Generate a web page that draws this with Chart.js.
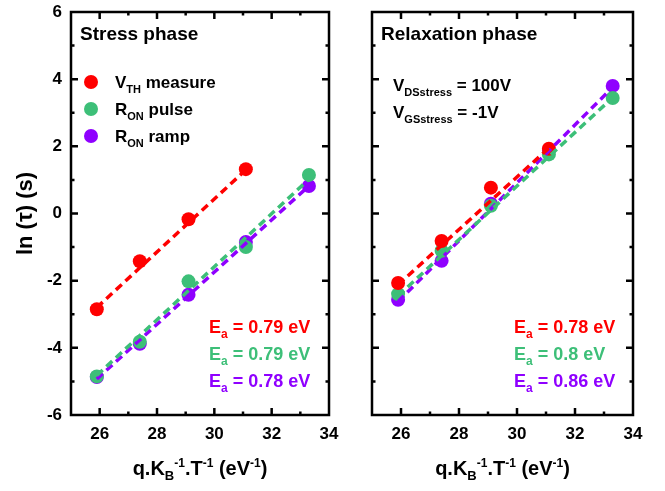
<!DOCTYPE html>
<html>
<head>
<meta charset="utf-8">
<script src="https://cdn.jsdelivr.net/npm/chart.js@4.4.1/dist/chart.umd.min.js"></script>
<style>
  html, body { margin: 0; padding: 0; background: #fff; }
  #wrap { position: relative; width: 665px; height: 491px; }
  #wrap canvas { position: absolute; left: 0; top: 0; }
</style>
</head>
<body>
<div id="wrap">
  <canvas id="stressChart" width="665" height="491"></canvas>
  <canvas id="relaxChart" width="665" height="491"></canvas>
</div>
<script>
// données
const xTicks = [26, 28, 30, 32, 34];
const yTicks = [-6, -4, -2, 0, 2, 4, 6];
const invKT = [25.9, 27.4, 29.1, 31.1, 33.3];

// phase de stress
const stressVth = [-2.85, -1.42, -0.17, 1.32];
const stressRonPulse = [-4.85, -3.82, -2.02, -1.0, 1.15];
const stressRonRamp = [-4.87, -3.88, -2.42, -0.85, 0.82];
// phase de relaxation
const relaxVth = [-2.07, -0.82, 0.77, 1.93];
const relaxRonPulse = [-2.4, -1.11, 0.23, 1.76, 3.44];
const relaxRonRamp = [-2.57, -1.41, 0.29, 1.89, 3.8];

// droites d'ajustement (extrémités)
const fitXShort = [25.9, 31.1];
const fitXLong = [25.9, 33.3];
const stressFitVth = [-2.8, 1.3];
const stressFitPulse = [-4.82, 1.02];
const stressFitRamp = [-4.93, 0.82];
const relaxFitVth = [-2.12, 1.95];
const relaxFitPulse = [-2.45, 3.45];
const relaxFitRamp = [-2.62, 3.76];

const RED = '#ff0000';
const GREEN = '#3dbf78';
const PURPLE = '#8f00ff';
const FONT = '"Liberation Sans", Arial, sans-serif';

function pts(xs, ys) {
    return ys.map((y, i) => ({ x: xs[i], y: y }));
}

// texte avec indices / exposants : parts = [texte, taille, décalage vertical]
function richText(ctx, parts, x, y, color, align) {
    let w = 0;
    parts.forEach(p => {
        ctx.font = 'bold ' + p[1] + 'px ' + FONT;
        w += ctx.measureText(p[0]).width;
    });
    let cx = align === 'center' ? x - w / 2 : x;
    ctx.fillStyle = color;
    ctx.textAlign = 'left';
    ctx.textBaseline = 'alphabetic';
    parts.forEach(p => {
        ctx.font = 'bold ' + p[1] + 'px ' + FONT;
        ctx.fillText(p[0], cx, y + (p[2] || 0));
        cx += ctx.measureText(p[0]).width;
    });
}

const framePlugin = {
    id: 'frame',
    afterDraw(chart, args, opts) {
        const ctx = chart.ctx;
        const a = chart.chartArea;
        const xs = chart.scales.x, ys = chart.scales.y;
        ctx.save();
        ctx.strokeStyle = '#000';
        ctx.lineWidth = 2.5;
        ctx.strokeRect(a.left, a.top, a.right - a.left, a.bottom - a.top);

        // graduations vers l'intérieur, sur les quatre côtés
        ctx.beginPath();
        for (let v = 26; v < 34; v++) {
            const px = xs.getPixelForValue(v);
            const len = v % 2 === 0 ? 7 : 3.5;
            ctx.moveTo(px, a.bottom); ctx.lineTo(px, a.bottom - len);
            ctx.moveTo(px, a.top); ctx.lineTo(px, a.top + len);
        }
        for (let v = -5; v < 6; v++) {
            const py = ys.getPixelForValue(v);
            const len = v % 2 === 0 ? 7 : 3.5;
            ctx.moveTo(a.left, py); ctx.lineTo(a.left + len, py);
            ctx.moveTo(a.right, py); ctx.lineTo(a.right - len, py);
        }
        ctx.stroke();

        // étiquettes des axes
        ctx.fillStyle = '#000';
        ctx.font = 'bold 17px ' + FONT;
        ctx.textAlign = 'center';
        ctx.textBaseline = 'middle';
        xTicks.forEach(v => ctx.fillText(String(v), xs.getPixelForValue(v), a.bottom + 19));
        if (opts.yLabels) {
            ctx.textAlign = 'right';
            yTicks.forEach(v => ctx.fillText(String(v), a.left - 9, ys.getPixelForValue(v)));
            ctx.save();
            ctx.translate(26, (a.top + a.bottom) / 2);
            ctx.rotate(-Math.PI / 2);
            ctx.textAlign = 'center';
            ctx.font = 'bold 22px ' + FONT;
            ctx.fillText('ln (\u03c4) (s)', 0, 0);
            ctx.restore();
        }

        // titre de l'axe x
        const cx = (a.left + a.right) / 2;
        richText(ctx, [['q.K', 20], ['B', 13, 5], ['-1', 12, -8], ['.T', 20], ['-1', 12, -8],
            [' (eV', 20], ['-1', 12, -8], [')', 20]], cx, 475, '#000', 'center');

        // titre du panneau
        richText(ctx, [[opts.title, 19]], a.left + 9, 40, '#000', 'left');

        // annotations et légende
        (opts.notes || []).forEach(n => richText(ctx, n.parts, n.x, n.y, n.color || '#000', 'left'));
        (opts.legend || []).forEach(l => {
            ctx.fillStyle = l.color;
            ctx.beginPath();
            ctx.arc(l.dotX, l.y - 6, 7, 0, Math.PI * 2);
            ctx.fill();
            richText(ctx, l.parts, l.textX, l.y, '#000', 'left');
        });
        ctx.restore();
    }
};

function makePanel(id, pad, series, fits, opts) {
    const datasets = [];
    series.forEach(s => datasets.push({
        data: pts(invKT, s.values),
        showLine: false,
        pointRadius: 7,
        pointHoverRadius: 7,
        pointBorderWidth: 0,
        backgroundColor: s.color,
        order: 2
    }));
    fits.forEach(f => datasets.push({
        data: pts(f.xs, f.ys),
        showLine: true,
        borderColor: f.color,
        borderWidth: 3.5,
        borderDash: [8, 5],
        pointRadius: 0,
        order: 1
    }));
    return new Chart(document.getElementById(id), {
        type: 'scatter',
        data: { datasets: datasets },
        options: {
            responsive: false,
            animation: false,
            events: [],
            layout: { padding: pad },
            scales: {
                x: { type: 'linear', min: 25, max: 34, display: false },
                y: { type: 'linear', min: -6, max: 6, display: false }
            },
            plugins: {
                legend: { display: false },
                tooltip: { enabled: false },
                frame: opts
            }
        },
        plugins: [framePlugin]
    });
}

const eaParts = (val) => [['E', 18], ['a', 12, 5], [' = ' + val + ' eV', 18]];

makePanel('stressChart', { left: 71, right: 336, top: 12, bottom: 76 },
    [
        { values: stressVth, color: RED },
        { values: stressRonPulse, color: GREEN },
        { values: stressRonRamp, color: PURPLE }
    ],
    [
        { xs: fitXShort, ys: stressFitVth, color: RED },
        { xs: fitXLong, ys: stressFitPulse, color: GREEN },
        { xs: fitXLong, ys: stressFitRamp, color: PURPLE }
    ],
    {
        title: 'Stress phase',
        yLabels: true,
        legend: [
            { color: RED, dotX: 91, textX: 115, y: 88, parts: [['V', 17], ['TH', 11, 5], [' measure', 17]] },
            { color: GREEN, dotX: 91, textX: 115, y: 115, parts: [['R', 17], ['ON', 11, 5], [' pulse', 17]] },
            { color: PURPLE, dotX: 91, textX: 115, y: 142, parts: [['R', 17], ['ON', 11, 5], [' ramp', 17]] }
        ],
        notes: [
            { x: 209, y: 333, color: RED, parts: eaParts('0.79') },
            { x: 209, y: 360, color: GREEN, parts: eaParts('0.79') },
            { x: 209, y: 387, color: PURPLE, parts: eaParts('0.78') }
        ]
    });

makePanel('relaxChart', { left: 372, right: 32, top: 12, bottom: 76 },
    [
        { values: relaxVth, color: RED },
        { values: relaxRonPulse, color: GREEN },
        { values: relaxRonRamp, color: PURPLE }
    ],
    [
        { xs: fitXShort, ys: relaxFitVth, color: RED },
        { xs: fitXLong, ys: relaxFitPulse, color: GREEN },
        { xs: fitXLong, ys: relaxFitRamp, color: PURPLE }
    ],
    {
        title: 'Relaxation phase',
        yLabels: false,
        notes: [
            { x: 393, y: 91, parts: [['V', 17], ['DSstress', 11, 5], [' = 100V', 17]] },
            { x: 393, y: 118, parts: [['V', 17], ['GSstress', 11, 5], [' = -1V', 17]] },
            { x: 514, y: 333, color: RED, parts: eaParts('0.78') },
            { x: 514, y: 360, color: GREEN, parts: eaParts('0.8') },
            { x: 514, y: 387, color: PURPLE, parts: eaParts('0.86') }
        ]
    });
</script>
</body>
</html>
